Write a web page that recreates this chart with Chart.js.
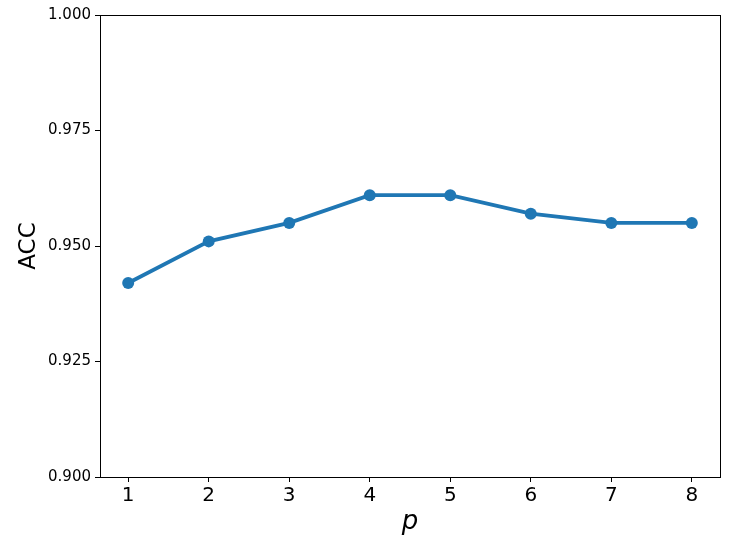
<!DOCTYPE html>
<html>
<head>
<meta charset="utf-8">
<script src="https://cdn.jsdelivr.net/npm/chart.js@4/dist/chart.umd.min.js"></script>
<style>
html,body{margin:0;padding:0;background:#fff;}
#wrap{width:745px;height:543px;position:relative;}
</style>
</head>
<body>
<div id="wrap"><canvas id="c" width="745" height="543"></canvas></div>
<script>
const pValues = [1, 2, 3, 4, 5, 6, 7, 8];
const accValues = [0.942, 0.951, 0.955, 0.961, 0.961, 0.957, 0.955, 0.955];
const yTicks = [0.900, 0.925, 0.950, 0.975, 1.000];

const boxPlugin = {
  id: 'box',
  afterDraw(chart) {
    const {ctx, chartArea: a} = chart;
    ctx.save();
    ctx.strokeStyle = '#000';
    ctx.lineWidth = 1;
    ctx.strokeRect(Math.round(a.left) + 0.5, Math.round(a.top) + 0.5, Math.round(a.right - a.left), Math.round(a.bottom - a.top));
    ctx.restore();
  }
};

new Chart(document.getElementById('c'), {
  type: 'line',
  data: {
    datasets: [{
      data: pValues.map((p, i) => ({x: p, y: accValues[i]})),
      borderColor: '#1f77b4',
      backgroundColor: '#1f77b4',
      borderWidth: 3.8,
      pointRadius: 6,
      pointHoverRadius: 6,
      pointBorderWidth: 0,
      tension: 0
    }]
  },
  options: {
    responsive: false,
    animation: false,
    layout: {padding: {top: 15, right: 25, left: 0, bottom: 0}},
    plugins: {legend: {display: false}, tooltip: {enabled: false}},
    scales: {
      x: {
        type: 'linear',
        min: 0.65,
        max: 8.35,
        afterBuildTicks(scale) { scale.ticks = pValues.map(v => ({value: v})); },
        afterFit(scale) { scale.height = 66; },
        grid: {display: true, drawOnChartArea: false, drawTicks: true, tickLength: 5, tickColor: '#000', color: '#000'},
        border: {display: true, color: '#000', width: 1},
        ticks: {color: '#000', font: {family: 'DejaVu Sans', size: 20}, padding: 2, callback: v => String(v)},
        title: {display: true, text: 'p', color: '#000', font: {family: 'DejaVu Sans', size: 26, style: 'italic'}, padding: {top: 0, bottom: 5}}
      },
      y: {
        min: 0.9,
        max: 1.0,
        afterBuildTicks(scale) { scale.ticks = yTicks.map(v => ({value: v})); },
        afterFit(scale) { scale.width = 100; },
        grid: {display: true, drawOnChartArea: false, drawTicks: true, tickLength: 5, tickColor: '#000', color: '#000'},
        border: {display: true, color: '#000', width: 1},
        ticks: {color: '#000', font: {family: 'DejaVu Sans', size: 15}, padding: 4, callback: v => v.toFixed(3)},
        title: {display: true, text: 'ACC', color: '#000', font: {family: 'DejaVu Sans', size: 23}, padding: {top: 15, bottom: 0}}
      }
    }
  },
  plugins: [boxPlugin]
});
</script>
</body>
</html>
